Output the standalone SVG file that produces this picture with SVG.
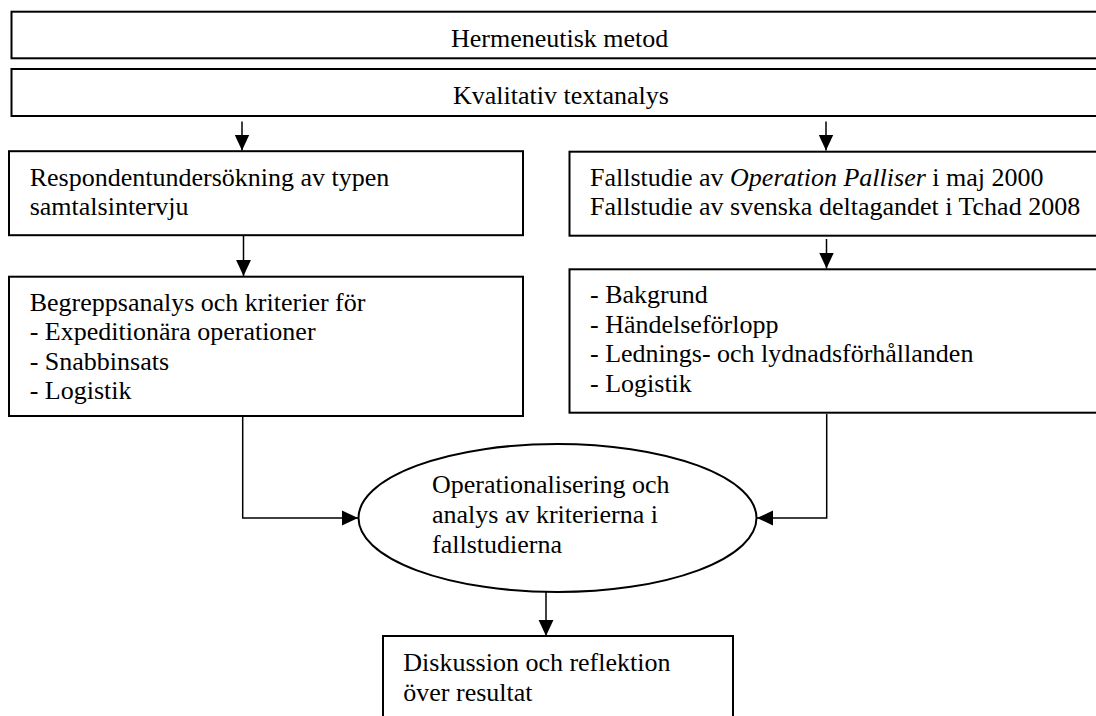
<svg xmlns="http://www.w3.org/2000/svg" width="1096" height="716" viewBox="0 0 1096 716">
<style>
.box{fill:#fff;stroke:#000;stroke-width:2}
.t{font-family:"Liberation Serif","Times New Roman",serif;font-size:26px;fill:#000}
.c{fill:none;stroke:#000;stroke-width:1.5}
</style>
<defs>
<marker id="ah" markerUnits="userSpaceOnUse" markerWidth="16" markerHeight="16" viewBox="0 0 14 14" refX="14" refY="7" orient="auto">
<path d="M0,0.5 L14,7 L0,13.5 Z" fill="#000"/>
</marker>
</defs>
<rect width="1096" height="716" fill="#fff"/>
<g id="connectors">
<line class="c" x1="242" y1="121.5" x2="242" y2="150.5" marker-end="url(#ah)"/>
<line class="c" x1="826" y1="121.5" x2="826" y2="150.5" marker-end="url(#ah)"/>
<line class="c" x1="243.5" y1="229" x2="243.5" y2="276" marker-end="url(#ah)"/>
<line class="c" x1="826.5" y1="239" x2="826.5" y2="268.5" marker-end="url(#ah)"/>
<polyline class="c" points="242.7,416 242.7,518 358,518" marker-end="url(#ah)"/>
<polyline class="c" points="826.7,414 826.7,518 757,518" marker-end="url(#ah)"/>
<line class="c" x1="546" y1="592" x2="546" y2="636" marker-end="url(#ah)"/>
</g>
<g id="hermeneutisk">
<rect class="box" x="11.5" y="11.7" width="1100" height="46.6"/>
<text class="t" x="451" y="46.7">Hermeneutisk metod</text>
</g>
<g id="kvalitativ">
<rect class="box" x="11.5" y="69" width="1100" height="47"/>
<text class="t" x="453" y="104.3">Kvalitativ textanalys</text>
</g>
<g id="respondent">
<rect class="box" x="9" y="151.2" width="514" height="84"/>
<text class="t" x="29.7" y="185.5">Respondentundersökning av typen</text>
<text class="t" x="29.7" y="215">samtalsintervju</text>
</g>
<g id="fallstudie">
<rect class="box" x="569.5" y="151.7" width="540" height="84"/>
<text class="t" x="590" y="185.5">Fallstudie av <tspan font-style="italic">Operation Palliser</tspan> i maj 2000</text>
<text class="t" x="590" y="215">Fallstudie av svenska deltagandet i Tchad 2008</text>
</g>
<g id="begrepp">
<rect class="box" x="9" y="276.7" width="514" height="139.3"/>
<text class="t" x="29.7" y="310.7">Begreppsanalys och kriterier för</text>
<text class="t" x="29.7" y="340.2">- Expeditionära operationer</text>
<text class="t" x="29.7" y="369.7">- Snabbinsats</text>
<text class="t" x="29.7" y="399.2">- Logistik</text>
</g>
<g id="bakgrund">
<rect class="box" x="569.5" y="269.3" width="540" height="143.4"/>
<text class="t" x="590" y="303">- Bakgrund</text>
<text class="t" x="590" y="332.6">- Händelseförlopp</text>
<text class="t" x="590" y="362.2">- Lednings- och lydnadsförhållanden</text>
<text class="t" x="590" y="391.8">- Logistik</text>
</g>
<g id="operationalisering">
<ellipse class="box" cx="557.5" cy="518" rx="199" ry="74"/>
<text class="t" x="432" y="493">Operationalisering och</text>
<text class="t" x="432" y="523">analys av kriterierna i</text>
<text class="t" x="432" y="553">fallstudierna</text>
</g>
<g id="diskussion">
<rect class="box" x="383" y="636" width="350" height="90"/>
<text class="t" x="403.3" y="671">Diskussion och reflektion</text>
<text class="t" x="403.3" y="701">över resultat</text>
</g>
</svg>
